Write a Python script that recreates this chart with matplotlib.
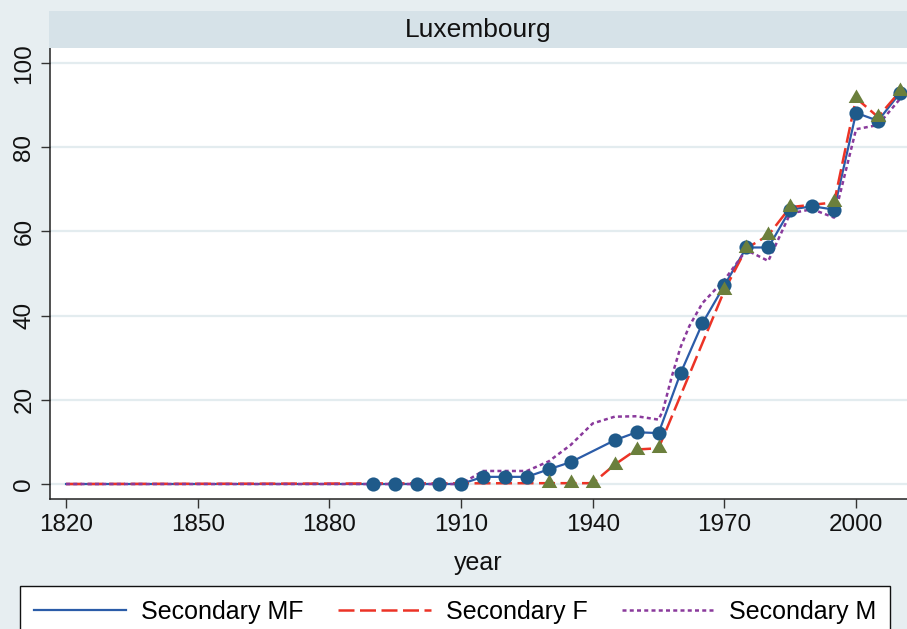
import numpy as np
import matplotlib
matplotlib.use("Agg")
import matplotlib.pyplot as plt
from matplotlib.path import Path
from matplotlib.patches import Rectangle
from matplotlib.lines import Line2D

plt.rcParams['font.family'] = ['Liberation Sans', 'DejaVu Sans']

# Secondary enrolment rates, Luxembourg
mf_years = [1890, 1895, 1900, 1905, 1910, 1915, 1920, 1925, 1930, 1935, 1945,
            1950, 1955, 1960, 1965, 1970, 1975, 1980, 1985, 1990, 1995, 2000,
            2005, 2010]
mf_vals = [0, 0, 0, 0, 0, 1.7, 1.7, 1.7, 3.5, 5.2, 10.4,
           12.3, 12.1, 26.3, 38.2, 47.2, 56.2, 56.2, 65.2, 66.0, 65.2, 88.2,
           86.3, 92.9]

f_years = [1930, 1935, 1940, 1945, 1950, 1955, 1970, 1975, 1980, 1985, 1995,
           2000, 2005, 2010]
f_vals = [0.2, 0.2, 0.2, 4.6, 8.2, 8.5, 46.0, 56.0, 59.1, 65.8, 66.9,
          91.7, 87.2, 93.3]

m_years = [1820, 1910, 1915, 1920, 1925, 1930, 1935, 1940, 1945, 1950, 1955,
           1956, 1958, 1960, 1962, 1965, 1970, 1975, 1980, 1985, 1990, 1995,
           2000, 2005, 2010]
m_vals = [0, 0, 3.1, 3.1, 3.1, 5.4, 9.3, 14.4, 16.0, 16.1, 15.3,
          17.5, 25.5, 32.5, 37.5, 43.0, 48.5, 55.6, 53.0, 64.3, 65.3, 63.3,
          84.3, 85.3, 91.5]

start_year = 1820

xticks = [1820, 1850, 1880, 1910, 1940, 1970, 2000]
yticks = [0, 20, 40, 60, 80, 100]

bg = '#e7eef1'
strip = '#d6e2e8'
grid = '#e3ecef'
c_mf_line = '#2b5ca8'
c_mf_mark = '#1f5a8a'
c_f = '#ec3326'
c_tri = '#6b7f3c'
c_m = '#8a3a9c'

# triangle centred on its centroid
tri = Path([(0, 2 / 3), (-0.577, -1 / 3), (0.577, -1 / 3), (0, 2 / 3)],
           [Path.MOVETO, Path.LINETO, Path.LINETO, Path.CLOSEPOLY])

fig = plt.figure(figsize=(9.07, 6.29), dpi=100, facecolor=bg)
W, H = 907, 629
ax = fig.add_axes([50 / W, 1 - 499 / H, 857 / W, 451 / H])
ax.set_facecolor('white')

# title strip
fig.patches.append(Rectangle((49 / W, 1 - 48 / H), 858 / W, 37 / H,
                             transform=fig.transFigure, facecolor=strip,
                             edgecolor='none', zorder=0))
fig.text((49 + 907) / 2 / W, 1 - 30 / H, 'Luxembourg', ha='center',
         va='center', fontsize=19, color='#111111')

lw = 1.8
ax.plot([start_year] + mf_years, [0] + mf_vals, color=c_mf_line, lw=1.6,
        zorder=2)
ax.plot([start_year] + f_years, [0] + f_vals, color=c_f, lw=lw,
        linestyle=(0, (6.4, 2.2)), zorder=2)
ax.plot(m_years, m_vals, color=c_m, lw=lw, linestyle=(0, (1.6, 1.3)),
        zorder=2)
ax.plot(mf_years, mf_vals, linestyle='none', marker='o', markersize=10.2,
        color=c_mf_mark, markeredgewidth=0, zorder=3)
ax.plot(f_years, f_vals, linestyle='none', marker=tri, markersize=13,
        color=c_tri, markeredgewidth=0, zorder=4)

ax.set_xlim(1816.35, 2011.6)
ax.set_ylim(-3.56, 103.6)
ax.set_xticks(xticks)
ax.set_yticks(yticks)
ax.set_yticklabels([str(v) for v in yticks], rotation=90, va='center')
ax.tick_params(axis='both', labelsize=17.5, length=6.5, width=1.0,
               color='#333333', labelcolor='#111111')
ax.tick_params(axis='x', pad=4)
ax.tick_params(axis='y', pad=4)
ax.grid(axis='y', color=grid, lw=1.6, zorder=0)
ax.set_axisbelow(True)
for side in ('top', 'right'):
    ax.spines[side].set_visible(False)
for side in ('left', 'bottom'):
    ax.spines[side].set_color('#222222')
    ax.spines[side].set_linewidth(1.1)

fig.text((50 + 907) / 2 / W, 1 - 563 / H, 'year', ha='center', va='center',
         fontsize=18, color='#111111')

handles = [
    Line2D([], [], color=c_mf_line, lw=1.6),
    Line2D([], [], color=c_f, lw=lw, linestyle=(0, (6.4, 2.2))),
    Line2D([], [], color=c_m, lw=lw, linestyle=(0, (1.6, 1.3))),
]
labels = ['Secondary MF', 'Secondary F', 'Secondary M']
leg = fig.legend(handles, labels, loc='upper left', ncol=3, mode='expand',
                 bbox_to_anchor=(20 / W, 1 - 586 / H, 870 / W, 0),
                 bbox_transform=fig.transFigure, fontsize=18, frameon=True,
                 fancybox=False, edgecolor='#111111', facecolor='white',
                 framealpha=1, handlelength=3.7, handletextpad=0.6,
                 borderpad=0.55, borderaxespad=0)
leg.get_frame().set_linewidth(1.0)

fig.savefig('out.png', dpi=100, facecolor=bg)
